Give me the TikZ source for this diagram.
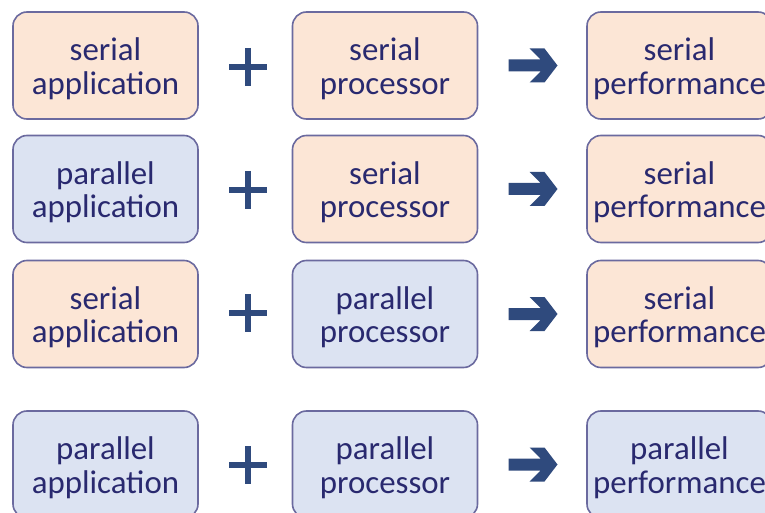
\documentclass[tikz,border=0pt]{standalone}
\usepackage{fontspec}
\newfontfamily\boxfont{Carlito}
\usepackage{tikz}

\definecolor{serialfill}{HTML}{FCE6D6}
\definecolor{parallelfill}{HTML}{DCE3F2}
\definecolor{boxline}{HTML}{6B6A9F}
\definecolor{boxtext}{HTML}{29296F}
\definecolor{signcol}{HTML}{2F4A7D}

\tikzset{
	block/.style={draw=boxline, line width=1.6bp, rounded corners=14bp,
		minimum width=185bp, minimum height=107bp, inner sep=0pt,
		align=center, text=boxtext, font=\boxfont\fontsize{33}{33.6}\selectfont,
		text height=65.6bp, text depth=8bp},
	serialbox/.style={block, fill=serialfill},
	parallelbox/.style={block, fill=parallelfill},
	plussign/.style={draw=signcol, line width=6bp},
}

% Heavy arrow between processor and performance.
\newcommand{\resultarrow}[1]{%
	\fill[signcol, shift={(#1)}] (-24,-6) -- (8,-6) -- (-3,-17) -- (12,-17)
		-- (25,0) -- (12,17) -- (-3,17) -- (8,6) -- (-24,6) -- cycle;}

\begin{document}
\begin{tikzpicture}[x=1bp, y=-1bp]
		\useasboundingbox (0,0) rectangle (765,513);

		% Row 1.
		\node[serialbox] (appA) at (105.5,65.5) {serial\\application};
		\node[serialbox] (procA) at (385,65.5) {serial\\processor};
		\node[serialbox] (perfA) at (679.5,65.5) {serial\\performance};

		% Row 2.
		\node[parallelbox] (appB) at (105.5,189) {parallel\\application};
		\node[serialbox] (procB) at (385,189) {serial\\processor};
		\node[serialbox] (perfB) at (679.5,189) {serial\\performance};

		% Row 3.
		\node[serialbox] (appC) at (105.5,314) {serial\\application};
		\node[parallelbox] (procC) at (385,314) {parallel\\processor};
		\node[serialbox] (perfC) at (679.5,314) {serial\\performance};

		% Row 4.
		\node[parallelbox] (appD) at (105.5,464.5) {parallel\\application};
		\node[parallelbox] (procD) at (385,464.5) {parallel\\processor};
		\node[parallelbox] (perfD) at (679.5,464.5) {parallel\\performance};

		% Plus signs.
		\coordinate (plusA) at (248,67);
		\coordinate (plusB) at (248,190);
		\coordinate (plusC) at (248,313);
		\coordinate (plusD) at (248,465);
		\draw[plussign]	(plusA) ++(-19,0) -- ++(38,0) (plusA) ++(0,-19) -- ++(0,38)
						(plusB) ++(-19,0) -- ++(38,0) (plusB) ++(0,-19) -- ++(0,38)
						(plusC) ++(-19,0) -- ++(38,0) (plusC) ++(0,-19) -- ++(0,38)
						(plusD) ++(-19,0) -- ++(38,0) (plusD) ++(0,-19) -- ++(0,38);

		% Arrows.
		\coordinate (arrA) at (532.5,65.5);
		\coordinate (arrB) at (532.5,189);
		\coordinate (arrC) at (532.5,314);
		\coordinate (arrD) at (532.5,464.5);
		\resultarrow{arrA}
		\resultarrow{arrB}
		\resultarrow{arrC}
		\resultarrow{arrD}

	\end{tikzpicture}
\end{document}
